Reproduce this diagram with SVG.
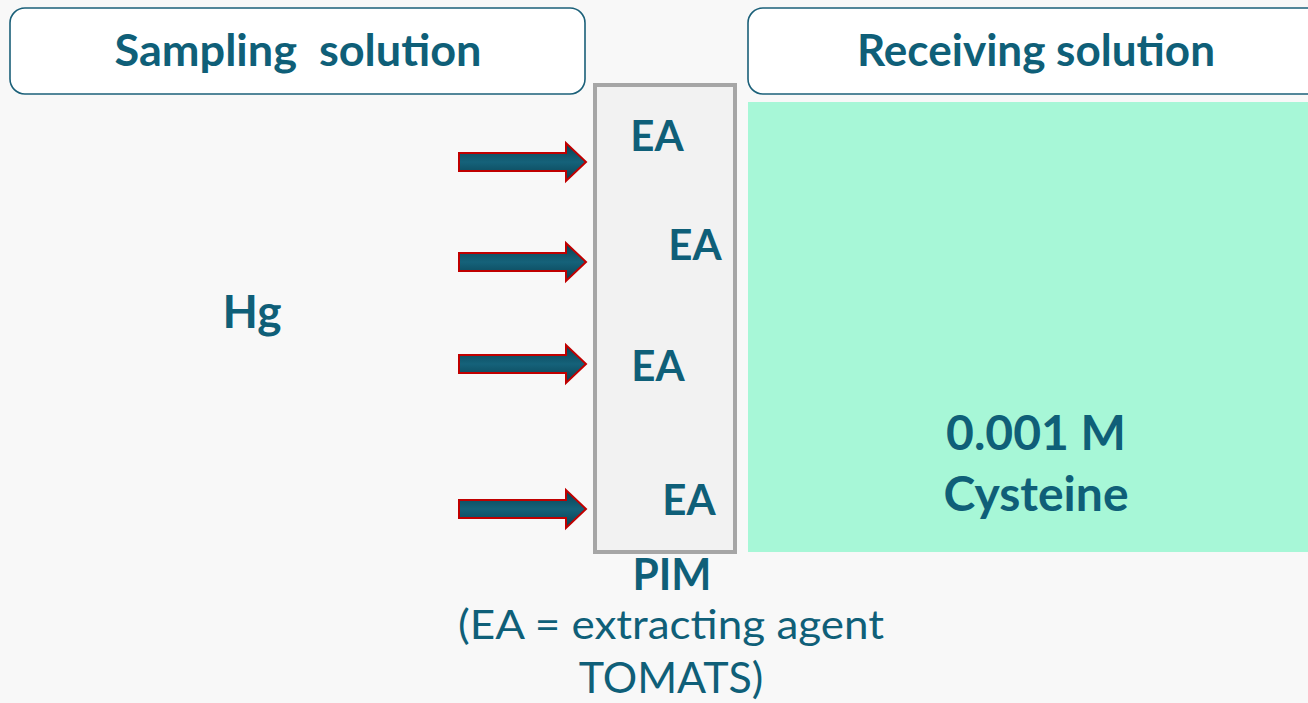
<svg xmlns="http://www.w3.org/2000/svg" width="1308" height="703" viewBox="0 0 1308 703">
  <defs>
    <style>
      .t { font-family: Lato, "Open Sans", "Liberation Sans", sans-serif; fill: #0f5f78; text-anchor: middle; white-space: pre; }
      .b { font-weight: bold; }
      .hdr { fill: #ffffff; stroke: #1b6079; stroke-width: 1.6; }
      .arrow { fill: url(#shaft); stroke: #c00000; stroke-width: 2; }
    </style>
    <linearGradient id="shaft" x1="0" y1="0" x2="0" y2="1">
      <stop offset="0" stop-color="#083f50"/>
      <stop offset="0.5" stop-color="#15627a"/>
      <stop offset="1" stop-color="#083f50"/>
    </linearGradient>
    <path id="arr" d="M459,-9 H566 V-19 L586,0 L566,19 V9 H459 Z"/>
  </defs>

  <rect width="1308" height="703" fill="#f8f8f8"/>

  <g id="sampling">
    <rect class="hdr" x="10" y="8" width="575" height="86" rx="15"/>
    <text class="t b" x="298" y="66" font-size="44" textLength="367" lengthAdjust="spacingAndGlyphs" xml:space="preserve">Sampling  solution</text>
  </g>

  <g id="receiving">
    <rect class="hdr" x="748" y="8" width="580" height="86" rx="15"/>
    <text class="t b" x="1036" y="66" font-size="44" textLength="358" lengthAdjust="spacingAndGlyphs">Receiving solution</text>
  </g>

  <g id="receiving-phase">
    <rect x="748" y="102" width="560" height="450" fill="#a7f7d7"/>
    <text class="t b" x="1036" y="450" font-size="48">0.001 M</text>
    <text class="t b" x="1036" y="511" font-size="48">Cysteine</text>
  </g>

  <g id="hg">
    <text class="t b" x="252" y="328" font-size="46">Hg</text>
  </g>

  <g id="connectors">
    <use href="#arr" class="arrow" transform="translate(0,162)"/>
    <use href="#arr" class="arrow" transform="translate(0,262)"/>
    <use href="#arr" class="arrow" transform="translate(0,364)"/>
    <use href="#arr" class="arrow" transform="translate(0,509)"/>
  </g>

  <g id="pim">
    <rect x="595" y="85" width="140" height="467" fill="#f2f2f2" stroke="#a6a6a6" stroke-width="4"/>
    <text class="t b" x="657" y="151" font-size="42">EA</text>
    <text class="t b" x="695" y="260" font-size="42">EA</text>
    <text class="t b" x="658" y="381" font-size="42">EA</text>
    <text class="t b" x="689" y="515" font-size="42">EA</text>
    <text class="t b" x="672" y="590" font-size="43" textLength="79" lengthAdjust="spacingAndGlyphs">PIM</text>
    <text class="t" x="671" y="639" font-size="41" textLength="426" lengthAdjust="spacingAndGlyphs">(EA = extracting agent</text>
    <text class="t" x="671" y="693" font-size="43">TOMATS)</text>
  </g>
</svg>
